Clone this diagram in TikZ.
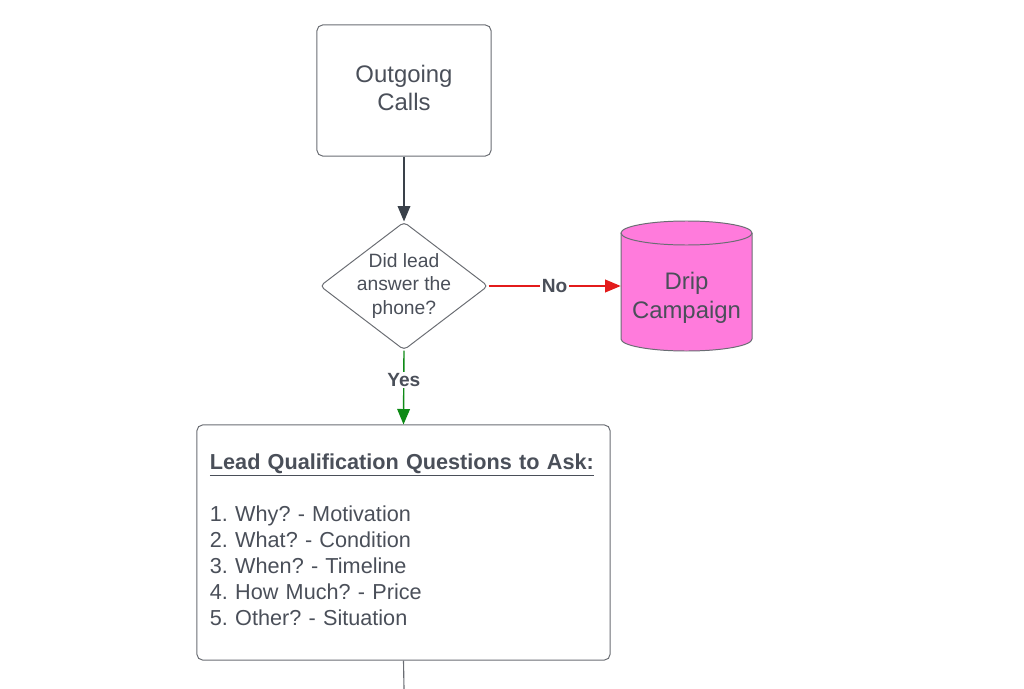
\documentclass[tikz,border=0pt]{standalone}
\usepackage{fontspec}
\setmainfont{Liberation Sans}
\frenchspacing
\usetikzlibrary{shapes.geometric,arrows.meta}
\definecolor{txtgray}{HTML}{4A4F59}
\definecolor{linegray}{HTML}{6A6D73}
\definecolor{arrowgray}{HTML}{3A414A}
\definecolor{noRed}{HTML}{E31B1B}
\definecolor{yesGreen}{HTML}{0E8A16}
\definecolor{dripPink}{HTML}{FF7BDC}
\begin{document}
\begin{tikzpicture}[x=0.025cm, y=0.025cm, >={Triangle[width=9pt,length=11pt]},
    box/.style={draw=linegray, line width=0.7pt, rounded corners=4pt, text=txtgray},
    decision/.style={diamond, draw=linegray, line width=0.7pt, rounded corners=3pt, aspect=1.3125,
        inner sep=-0.1cm, minimum width=4.2cm, minimum height=3.2cm, align=center, text=txtgray,
        font=\fontsize{13.7}{17}\selectfont},
    tag/.style={fill=white, inner sep=1pt, text=txtgray, font=\bfseries\fontsize{13.6}{16}\selectfont}]
    \useasboundingbox (0,0) rectangle (1024,-689);

    % Start of the flow
    \node[box, minimum width=4.35cm, minimum height=3.275cm, align=center, text depth=4.3pt,
          font=\fontsize{17}{20}\selectfont] (calls) at (404,-90.5) {Outgoing\\Calls};

    % Question
    \node[decision] (ask) at (404,-286) {Did lead\\answer the\\phone?};

    % Drip campaign (cylinder drawn by hand)
    \fill[dripPink] (621,-233) -- (621,-339) arc[start angle=180, end angle=360, x radius=65.5, y radius=12]
        -- (752,-233) arc[start angle=0, end angle=180, x radius=65.5, y radius=12] -- cycle;
    \draw[linegray, line width=0.7pt] (621,-233) -- (621,-339)
        arc[start angle=180, end angle=360, x radius=65.5, y radius=12] -- (752,-233);
    \draw[linegray, line width=0.7pt] (686.5,-233) ellipse[x radius=65.5, y radius=12];
    \node[minimum width=3.275cm, inner sep=0pt, align=center, text=txtgray,
          font=\fontsize{17}{20.6}\selectfont] (drip) at (686.5,-298) {Drip\\Campaign};

    % Questions to ask
    \node[box, minimum width=10.325cm, minimum height=5.875cm, inner xsep=0.325cm,
          text width=9.675cm, align=left, font=\fontsize{15.4}{18.5}\selectfont]
          (quest) at (403.5,-542.5)
          {\underline{\textbf{Lead Qualification Questions to Ask:}}\\[18.5pt]
           1. Why? - Motivation\\
           2. What? - Condition\\
           3. When? - Timeline\\
           4. How Much? - Price\\
           5. Other? - Situation\par\vspace*{4.3pt}};
    \coordinate (exit) at (404,-689);

    % Connectors
    \draw[->, arrowgray, line width=1pt] (calls.south) -- (ask.north);
    \draw[->, noRed, line width=1pt] (ask.east) -- (ask.east -| drip.west)
        node[tag, midway] {No};
    \draw[->, yesGreen, line width=1pt] (ask.south) -- (quest.north)
        node[tag, pos=0.4] {Yes};
    \draw[linegray, line width=0.8pt] (quest.south) -- (exit);
\end{tikzpicture}
\end{document}
